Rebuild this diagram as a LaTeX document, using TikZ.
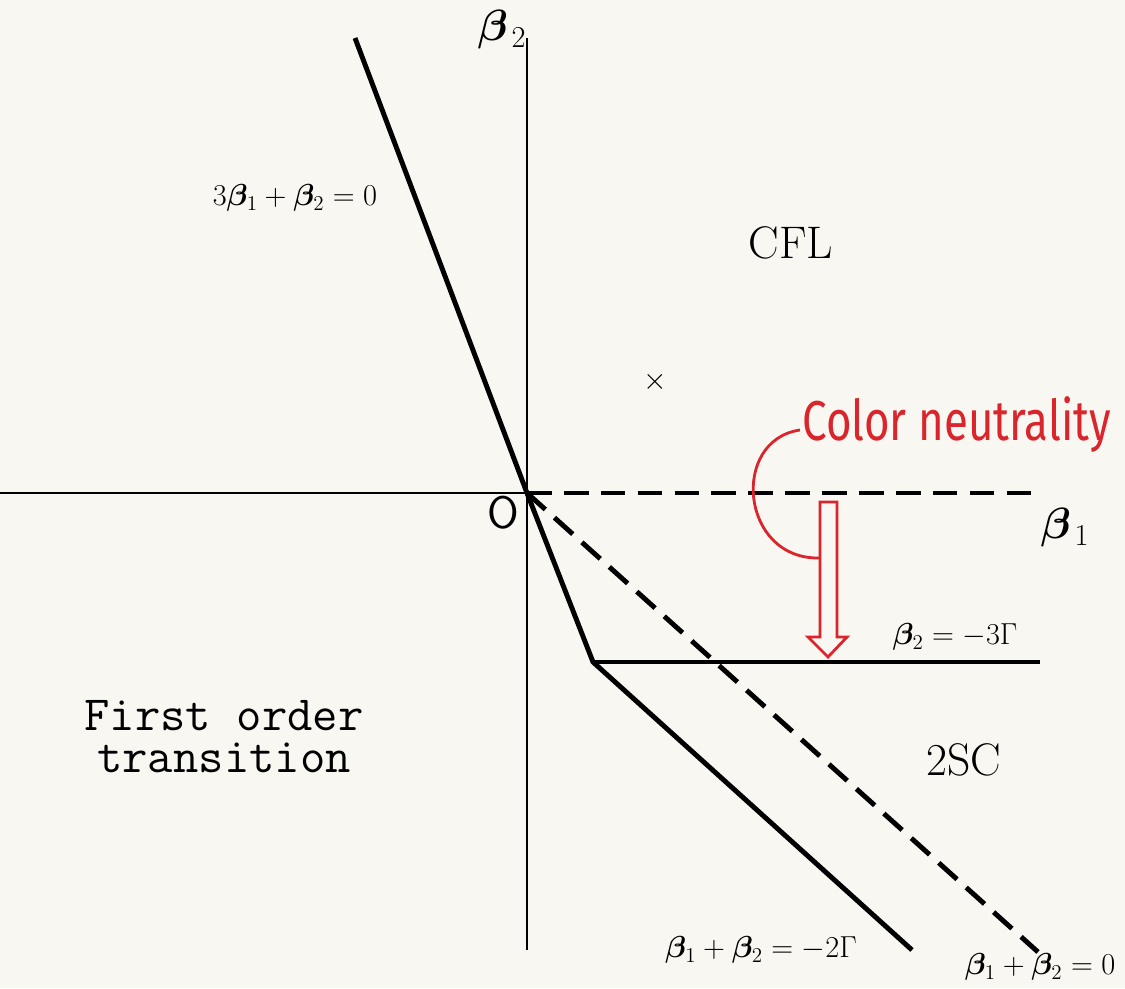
\documentclass[tikz,border=0pt]{standalone}
\usepackage{fontspec}
\usepackage{amsmath}
\usepackage{bm}
\usepackage{xcolor}
\newfontfamily\handfont{Fira Sans}
\usetikzlibrary{arrows.meta,positioning}
\definecolor{penred}{RGB}{218,37,45}
\definecolor{paper}{RGB}{248,247,242}
\tikzset{
	bdry/.style={line width=2.8pt},
	axisline/.style={line width=1.1pt},
	dashbdry/.style={line width=2.8pt, dash pattern=on 14pt off 7pt},
	eqlabel/.style={font=\fontsize{17}{20}\selectfont, inner sep=0pt},
	axlabel/.style={font=\fontsize{26}{30}\selectfont, inner sep=0pt},
	phase/.style={font=\fontsize{26}{30}\selectfont, inner sep=0pt},
	typed/.style={font=\fontsize{28}{25}\ttfamily, inner sep=0pt, anchor=base},
	pen/.style={penred, line width=1.6pt}
}
\begin{document}
\begin{tikzpicture}[x=0.02cm, y=-0.02cm]
		\fill[paper] (0,0) rectangle (1125,988);
		\useasboundingbox (0,0) rectangle (1125,988);
		\coordinate (O) at (527,493);
		\coordinate (T) at (355,38);
		\coordinate (K) at (593,662);
		\coordinate (A) at (1040,662);
		\coordinate (B) at (912,950);
		\coordinate (C) at (1038,952);
		\coordinate (X1) at (0,493);
		\coordinate (X2) at (1040,493);
		\coordinate (Y1) at (527,38);
		\coordinate (Y2) at (527,950);
		% 坐标轴
		\draw[axisline] (X1)--(O);
		\draw[axisline] (Y1)--(Y2);
		% 虚线
		\draw[dashbdry] (O)--(X2);
		\draw[dashbdry] (O)--(C);
		% 相界
		\draw[bdry, line join=miter] (T)--(O)--(K)--(B);
		\draw[bdry] (K)--(A);
		% 标签
		\node[axlabel] (b1) at (1065,528) {$\bm{\beta}_{\,1}$};
		\node[axlabel] (b2) at (502,30) {$\bm{\beta}_{\,2}$};
		\node[phase, font=\fontsize{26}{30}\sffamily] (o) at (503,513) {O};
		\node[eqlabel] (l1) at (295,198) {$3\bm{\beta}_1+\bm{\beta}_2=0$};
		\node[eqlabel] (l2) at (955,637) {$\bm{\beta}_2=-3\Gamma$};
		\node[eqlabel] (l3) at (761,950) {$\bm{\beta}_1+\bm{\beta}_2=-2\Gamma$};
		\node[eqlabel] (l4) at (1040,967) {$\bm{\beta}_1+\bm{\beta}_2=0$};
		\node[phase] (cfl) at (791,243) {CFL};
		\node[phase] (tsc) at (964,760) {2SC};
		\node[typed] (fo1) at (224,730) {First order};
		\node[typed] (fo2) at (224,772) {transition};
		\node[font=\fontsize{17}{20}\selectfont, inner sep=0pt] (cross) at (655,382) {$\times$};
		% 红色批注
		\node[penred, anchor=base west, inner sep=0pt, font=\fontsize{32}{36}\handfont] (cn) at (802,440) {\scalebox{0.78}[1]{Color neutrality}};
		\draw[pen, line join=miter] (820,502)--(837,502)--(837,637)--(847,637)--(828,657)--(808,637)--(820,637)--cycle;
		\draw[pen] (800,430) .. controls (730,440) and (740,560) .. (820,558);
	\end{tikzpicture}
\end{document}
